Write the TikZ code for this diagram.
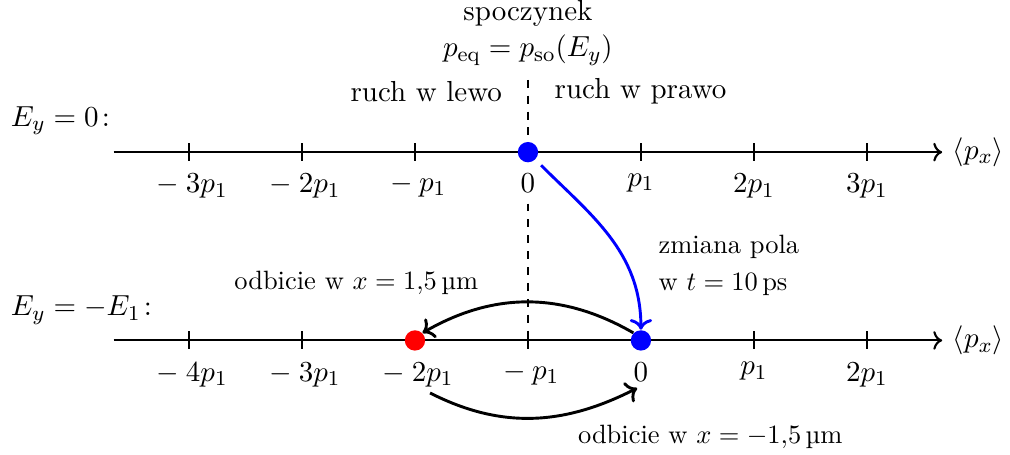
\documentclass[tikz,border=0pt,11pt]{standalone}
\usepackage{amsmath,amssymb}
\usepackage{siunitx}
\sisetup{output-decimal-marker={,}}
\usetikzlibrary{arrows.meta,positioning,calc}

\begin{document}
\begin{tikzpicture}[
  axis/.style={thick,->},
  tick/.style={thick},
  dot/.style={circle,fill,inner sep=0pt,minimum size=0.27cm},
  jump/.style={line width=1.1pt,->},
  note/.style={font=\small}]
  \useasboundingbox (-7.01,-4.01) rectangle (6.40,2.02);
  \node[align=center] (rest) at (0,1.58) {spoczynek\\$p_{\text{eq}} = p_{\text{so}}(E_y)$};
  \node[anchor=east] (left) at (-0.21,0.81) {ruch w lewo};
  \node[anchor=west] (right) at (0.22,0.81) {ruch w prawo};
  \begin{scope}
    \node[anchor=west] (fa) at (-7.0,0.42) {$E_y = 0\colon$};
    \draw[axis] (-5.5,0) -- (5.5,0) node[right] (pa) {$\langle p_x\rangle$};
    \foreach \i/\t in {1/{{}-3p_1},2/{{}-2p_1},3/{{}-p_1},4/{0},5/{p_1},6/{2p_1},7/{3p_1}}
      \draw[tick] ({(\i-4)*1.5},0.12) -- ({(\i-4)*1.5},-0.12)
        node[below,yshift=-0.03cm] (up\i) {$\t$};
  \end{scope}
  \begin{scope}[yshift=-2.5cm]
    \node[anchor=west] (fb) at (-7.0,0.4) {$E_y = -E_1\colon$};
    \draw[axis] (-5.5,0) -- (5.5,0) node[right] (pb) {$\langle p_x\rangle$};
    \foreach \i/\t in {1/{{}-4p_1},2/{{}-3p_1},3/{{}-2p_1},4/{{}-p_1},5/{0},6/{p_1},7/{2p_1}}
      \draw[tick] ({(\i-4)*1.5},0.12) -- ({(\i-4)*1.5},-0.12)
        node[below,yshift=-0.03cm] (lo\i) {$\t$};
  \end{scope}
  % linia spoczynku
  \draw[thick,dashed] (0,0.96) -- (0,0);
  \draw[thick,dashed] (up4.south) -- (0,-2.5);
  % stany
  \node[dot,blue] (s0) at (0,0) {};
  \node[dot,blue] (s1) at (1.5,-2.5) {};
  \node[dot,red] (s2) at (-1.5,-2.5) {};
  % przejscia
  \draw[jump,blue,shorten <=3pt] (s0.south east) to[out=-45,in=90] (s1.north);
  \node[note,anchor=west,align=left] (field) at (1.6,-1.5) {zmiana pola\\[2pt]w $t = \qty{10}{ps}$};
  \draw[jump] (s1.north west) to[out=150,in=30] (s2.north east);
  \node[note] (rfl1) at (-2.28,-1.74) {odbicie w $x = \qty{1,5}{\micro\metre}$};
  \draw[jump] ([xshift=0.2cm,yshift=0.06cm]lo3.south) to[out=-27,in=-153] ([xshift=-0.05cm,yshift=0.05cm]lo5.south);
  \node[note] (rfl2) at (2.42,-3.78) {odbicie w $x = \qty{-1,5}{\micro\metre}$};
\end{tikzpicture}
\end{document}
